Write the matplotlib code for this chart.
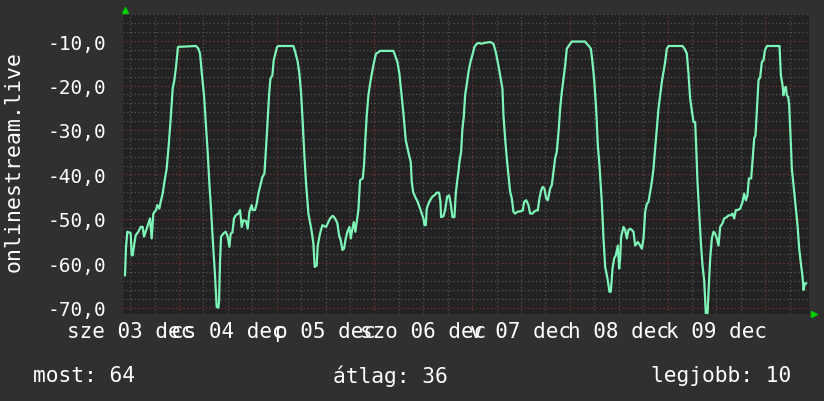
import matplotlib
matplotlib.use("Agg")
import matplotlib.pyplot as plt
from matplotlib.ticker import MultipleLocator, FuncFormatter
from matplotlib.transforms import blended_transform_factory

# hours since the left edge of the graph, and the signal value
hours = [
    0.49, 0.74, 1.06, 1.88, 2.13, 2.38, 2.70, 3.11, 3.77, 4.34, 4.83, 5.16, 5.82, 6.63,
    7.04, 7.45, 8.11, 8.44, 8.93, 9.25, 9.75, 10.16, 10.73, 11.22, 11.71, 12.20, 12.61,
    13.02, 13.51, 17.94, 18.51, 18.92, 19.33, 19.90, 20.39, 20.80, 21.21, 21.62, 22.03,
    22.60,
    23.01, 23.42, 23.59, 23.83, 24.08, 24.65, 25.22, 25.72, 26.13, 26.45, 26.86, 27.27,
    27.68, 28.34, 28.75, 29.16, 29.57, 30.22, 30.63, 31.04, 31.61, 31.86, 32.43, 32.84,
    33.25, 33.74, 34.23, 34.73, 35.05, 35.46, 35.87, 36.20, 36.69, 37.02, 37.51, 37.84,
    38.17, 41.85, 42.26, 42.92, 43.32, 43.73, 44.14, 44.55, 44.96, 45.54,
    46.36, 46.76, 47.09, 47.58, 47.83, 48.40, 48.98, 49.39, 49.88, 50.45, 50.86, 51.52,
    52.09, 52.66, 53.07, 53.48, 53.89, 54.30, 54.71, 55.12, 55.61, 55.94, 56.35, 56.68,
    57.08, 57.41, 57.82, 58.23, 58.89, 59.21, 59.54, 59.87, 60.28, 60.69, 61.18, 61.67,
    62.16, 62.74, 63.14, 66.42, 66.83, 67.40, 67.89, 68.30, 68.88, 69.45,
    70.27, 70.68, 70.93, 71.25, 71.74, 72.40, 72.97, 73.38, 73.79, 74.04, 74.37, 74.61,
    75.02, 75.43, 76.00, 76.49, 77.07, 77.64, 77.97, 78.13, 78.71, 79.12, 79.61, 80.10,
    80.51, 80.92, 81.41, 81.74, 82.06, 82.39, 82.64, 83.05, 83.37, 83.70, 84.03, 84.52,
    84.85, 85.34, 85.91, 86.32, 86.90, 87.47, 88.00, 88.78, 90.17, 90.99, 91.57, 92.22,
    92.79, 93.20,
    93.45, 93.86, 94.27, 94.68, 95.09, 95.50, 95.90, 96.31, 96.89, 97.54, 98.20, 98.53,
    99.02, 99.59, 100.00, 100.57, 100.98, 101.47, 101.88, 102.29, 102.70, 103.11, 103.52,
    103.93, 104.34, 104.91, 105.32, 105.73, 106.14, 106.55, 107.04, 107.37, 107.78,
    108.19, 108.60, 109.01, 109.83, 110.24, 113.51, 113.92, 114.41, 114.91, 115.23,
    115.72, 116.22, 116.63, 117.03,
    117.61, 118.02, 118.43, 119.00, 119.49, 119.82, 120.23, 120.64, 121.05, 121.54,
    121.87, 122.11, 122.36, 122.93, 123.34, 123.75, 124.16, 124.57, 124.98, 125.39,
    125.80, 126.45, 127.03, 127.44, 127.85, 128.26, 128.67, 129.07, 129.48, 129.89,
    130.30, 130.71, 131.12, 131.53, 131.94, 132.35, 132.76, 133.17, 133.58, 133.99,
    137.43, 137.92, 138.49, 138.90, 139.31,
    140.13, 140.54, 140.79, 141.11, 141.52, 141.93, 142.34, 142.75, 143.16, 143.57,
    143.82, 144.23, 144.64, 145.04, 145.45, 145.86, 146.27, 146.68, 147.26, 147.67,
    148.32, 148.73, 149.30, 149.71, 150.12, 150.53, 151.02, 151.60, 152.17, 152.58,
    152.99, 153.40, 153.73, 154.30, 154.63, 155.04, 155.36, 155.69, 156.10, 156.51,
    156.92, 157.33, 157.66, 158.15, 161.26, 161.59, 162.00, 162.24, 162.49, 162.82,
    163.06, 163.39, 163.64, 163.96, 164.29, 164.78, 165.27, 165.68, 166.09, 166.50,
    166.91, 167.16, 167.49, 167.81,
]
signal = [
    -62.7, -56.3, -52.9, -53.2, -58.2, -58.2, -56.0, -53.7, -52.9, -51.8, -51.8, -54.0,
    -52.2, -49.9, -54.4, -48.8, -48.0, -46.9, -47.7, -46.2, -44.3, -41.7, -38.7, -33.5,
    -27.5, -20.7, -18.8, -15.8, -11.3, -11.1, -11.7, -12.8, -17.0, -22.2, -29.0, -35.0,
    -42.0, -47.7, -54.4, -62.7,
    -69.8, -70.0, -68.7, -59.7, -54.0, -53.3, -52.9, -54.0, -56.3, -53.3, -53.1, -49.9,
    -49.2, -48.8, -48.0, -51.8, -50.3, -50.5, -52.2, -48.4, -46.9, -48.0, -48.0, -46.6,
    -44.3, -42.4, -40.6, -39.8, -35.3, -29.0, -22.2, -18.5, -17.7, -14.3, -12.5, -11.3,
    -11.1, -11.1, -12.3, -14.7, -17.3, -21.5, -28.2, -35.7, -42.0, -48.8,
    -52.9, -55.5, -60.8, -60.5, -56.0, -53.3, -51.4, -51.6, -51.8, -50.7, -49.9, -49.3,
    -49.9, -51.0, -53.7, -54.8, -57.0, -56.7, -54.4, -52.9, -51.8, -54.4, -52.2, -50.7,
    -52.9, -50.7, -48.0, -41.3, -40.9, -37.9, -31.9, -26.7, -22.2, -19.6, -17.0, -14.7,
    -12.8, -12.5, -12.2, -12.2, -13.2, -14.7, -17.3, -21.1, -26.3, -32.3,
    -35.7, -37.2, -41.7, -43.9, -45.0, -46.2, -47.7, -48.8, -49.9, -51.4, -51.4, -47.7,
    -46.6, -45.8, -45.0, -44.7, -44.1, -44.1, -46.2, -49.6, -49.4, -48.0, -45.0, -44.7,
    -46.6, -49.6, -49.6, -44.3, -41.7, -39.4, -37.2, -34.9, -29.7, -27.1, -22.2, -19.2,
    -17.0, -14.7, -12.8, -11.3, -10.6, -10.4, -10.6, -10.4, -10.2, -10.6, -12.5, -15.5,
    -18.5, -20.7,
    -26.7, -31.9, -36.4, -40.2, -43.9, -45.4, -48.4, -48.8, -48.4, -48.3, -48.1, -46.2,
    -45.8, -46.9, -48.8, -48.8, -48.4, -48.1, -48.1, -45.4, -43.6, -42.8, -43.2,
    -45.4, -45.8, -43.2, -42.4, -39.4, -36.4, -34.9, -29.7, -25.2, -21.5,
    -18.5, -15.5, -11.7, -10.6, -10.1, -10.1, -10.6, -11.1, -11.7, -14.0,
    -18.5, -25.2, -33.4, -37.9,
    -46.2, -54.4, -60.8, -63.4, -66.4, -66.4, -61.2, -58.9, -58.2, -56.0,
    -61.2, -58.9, -54.0, -51.8, -52.5, -54.4, -52.5, -52.2, -52.5, -52.9,
    -56.0, -55.2, -56.0, -56.7, -54.4, -48.4, -46.6, -46.2, -43.9, -41.7,
    -38.7, -34.2, -29.7, -25.2, -22.2, -19.2, -17.0, -14.7, -11.7, -11.1,
    -11.1, -11.7, -12.8, -17.3, -23.0,
    -28.2, -28.2, -33.8, -41.7, -48.4, -55.2, -60.4, -63.8, -71.3, -71.3,
    -66.4, -58.9, -54.4, -52.9, -53.3, -54.4, -56.0, -51.8, -51.0, -49.9,
    -49.6, -49.2, -49.2, -48.8, -49.9, -48.0, -48.0, -47.7, -46.2, -44.3,
    -45.8, -44.7, -40.9, -40.9, -36.8, -31.9, -31.2, -25.6, -18.8, -18.1,
    -14.7, -14.3, -12.1, -11.1, -11.1, -17.7, -19.9, -22.2, -20.7, -20.3,
    -22.2, -22.6, -24.5, -31.2, -38.7, -43.2, -47.7, -51.4, -56.7, -60.0,
    -63.0, -66.0, -64.5, -64.5,
]

day_labels = ["sze 03 dec", "cs 04 dec", "p 05 dec", "szo 06 dec",
              "v 07 dec", "h 08 dec", "k 09 dec"]
source_name = "onlinestream.live"
summary = [("most", 64), ("átlag", 36), ("legjobb", 10)]

first_midnight = 13.75   # hours after the left edge
span = 168.5

bg = "#303030"
plot_bg = "#222222"
fg = "white"
mono = "DejaVu Sans Mono"

fig = plt.figure(figsize=(8.24, 4.02), dpi=100, facecolor=bg)
ax = fig.add_axes([123 / 824, 87 / 402, 686 / 824, 300 / 402], facecolor=plot_bg)

ax.plot(hours, signal, color="#7ef5b8", linewidth=1.6, zorder=3)

ax.set_xlim(0, span)
ax.set_ylim(-71.4, -3.9)

# grid: 6h / 1 day vertical, 2 / 10 horizontal
ax.xaxis.set_major_locator(MultipleLocator(24, offset=first_midnight))
ax.xaxis.set_minor_locator(MultipleLocator(6, offset=first_midnight))
ax.yaxis.set_major_locator(MultipleLocator(10))
ax.yaxis.set_minor_locator(MultipleLocator(2))
ax.grid(which="major", color="#7a3434", linestyle=(0, (1, 2)), linewidth=0.9)
ax.grid(which="minor", color="#555555", linestyle=(0, (1, 2)), linewidth=0.9)

ax.yaxis.set_major_formatter(FuncFormatter(lambda v, p: f"{v:.1f}".replace(".", ",")))
ax.tick_params(axis="y", which="both", length=0, pad=12, labelsize=14,
               labelcolor=fg, labelfontfamily=mono)
ax.tick_params(axis="x", which="both", length=0, labelbottom=False)
for s in ax.spines.values():
    s.set_visible(False)

# day labels, centred half a day before each midnight line
trans = blended_transform_factory(ax.transData, ax.transAxes)
for i, lab in enumerate(day_labels):
    ax.text(first_midnight - 12 + 24 * i, -0.022, lab, transform=trans,
            ha="center", va="top", fontsize=15, color=fg, family=mono)

# green arrow heads of the axes
ax.plot([0.003], [1.015], marker="^", color="#00cc00", markersize=5,
        transform=ax.transAxes, clip_on=False)
ax.plot([1.008], [0.0], marker=">", color="#00cc00", markersize=5,
        transform=ax.transAxes, clip_on=False)

fig.text(14 / 824, 1 - 162 / 402, source_name, rotation=90, ha="center", va="center",
         fontsize=15.5, color=fg, family=mono)

fig.text(33 / 824, 1 - 376 / 402, f"{summary[0][0]}: {summary[0][1]}",
         ha="left", va="center", fontsize=15.3, color=fg, family=mono)
fig.text(333 / 824, 1 - 376 / 402, f"{summary[1][0]}: {summary[1][1]}",
         ha="left", va="center", fontsize=15.3, color=fg, family=mono)
fig.text(791 / 824, 1 - 376 / 402, f"{summary[2][0]}: {summary[2][1]}",
         ha="right", va="center", fontsize=15.3, color=fg, family=mono)

fig.savefig("out.png", dpi=100, facecolor=bg)
